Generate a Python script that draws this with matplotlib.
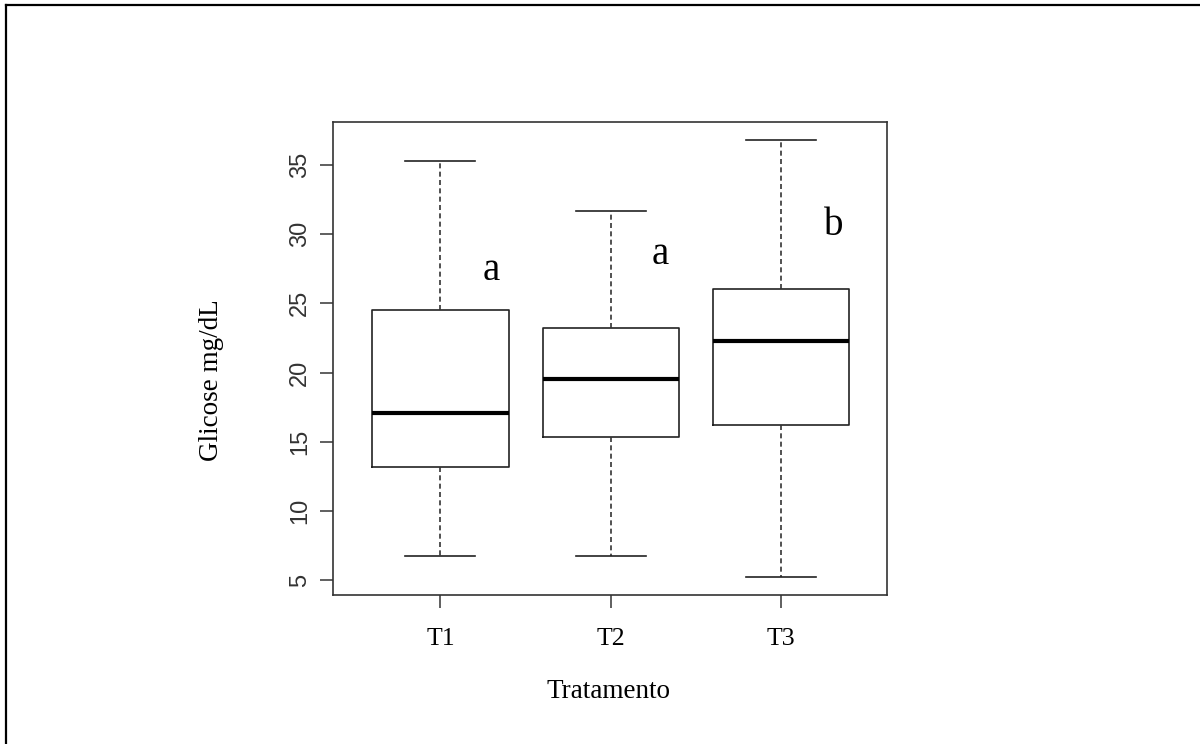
import matplotlib
matplotlib.use("Agg")
import matplotlib.pyplot as plt
from matplotlib.lines import Line2D

categories = ["T1", "T2", "T3"]
whislo = [6.75, 6.75, 5.2]
q1 = [13.15, 15.35, 16.2]
med = [17.05, 19.55, 22.3]
q3 = [24.55, 23.25, 26.05]
whishi = [35.3, 31.7, 36.8]
letters = ["a", "a", "b"]
letter_x = [1.30, 2.29, 3.31]
letter_y = [27.4, 28.5, 30.6]
yticks = [5, 10, 15, 20, 25, 30, 35]

fig = plt.figure(figsize=(12, 7.44), dpi=100)
ax = fig.add_axes([333/1200, 1-595/744, (887-333)/1200, (595-122)/744])

stats = []
for i, c in enumerate(categories):
    stats.append(dict(label=c, whislo=whislo[i], q1=q1[i], med=med[i],
                      q3=q3[i], whishi=whishi[i], fliers=[]))

dark = "#222222"
ax.bxp(stats, positions=[1, 2, 3], widths=0.8, showfliers=False,
       boxprops=dict(color=dark, linewidth=1.2),
       medianprops=dict(color="black", linewidth=3.0, solid_capstyle="butt"),
       whiskerprops=dict(color="#333333", linewidth=1.2, linestyle=(0, (3.0, 2.0))),
       capprops=dict(color=dark, linewidth=1.2),
       capwidths=0.41)

ax.set_xlim(0.37, 3.62)
ax.set_ylim(3.92, 38.11)
ax.set_yticks(yticks)
ax.set_yticklabels([str(v) for v in yticks], rotation=90, va="center",
                   fontfamily="Liberation Sans", fontsize=17, color="#333333")
ax.set_xticks([1, 2, 3])
ax.set_xticklabels(categories, fontfamily="Liberation Serif", fontsize=18.5, color="black")
ax.tick_params(axis="y", length=9.5, width=1.2, color="#444444", pad=6.5)
ax.tick_params(axis="x", length=9.5, width=1.2, color="#444444", pad=14)
for s in ax.spines.values():
    s.set_color("#333333")
    s.set_linewidth(1.2)

for x, y, t in zip(letter_x, letter_y, letters):
    ax.text(x, y, t, ha="center", va="center", fontfamily="Liberation Serif", fontsize=28)

fig.text(212/1200, 1-380/744, "Glicose mg/dL", rotation=90, ha="center", va="center",
         fontfamily="Liberation Serif", fontsize=19.5)
fig.text(609/1200, 1-691/744, "Tratamento", ha="center", va="center",
         fontfamily="Liberation Serif", fontsize=19.5)

# outer border (top and left only)
fig.add_artist(Line2D([6/1200, 1], [1-5/744, 1-5/744], transform=fig.transFigure,
                      color="black", linewidth=1.6))
fig.add_artist(Line2D([6/1200, 6/1200], [0, 1-5/744], transform=fig.transFigure,
                      color="black", linewidth=1.6))

fig.savefig("out.png", dpi=100)
